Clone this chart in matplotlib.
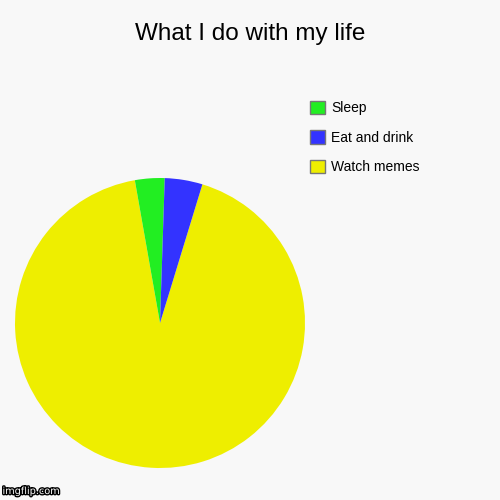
import matplotlib.pyplot as plt
import matplotlib.patches as mpatches
import matplotlib.patheffects as pe

labels = ['Watch memes', 'Sleep', 'Eat and drink']
values = [92.5, 3.3, 4.2]
colors = ['#EEEE00', '#22EE22', '#3333FF']
legend_order = ['Sleep', 'Eat and drink', 'Watch memes']

fig = plt.figure(figsize=(5, 5), dpi=100, facecolor='#F8F8F8')
ax = fig.add_axes([0.03, 0.064, 0.58, 0.58])
ax.set_facecolor('#F8F8F8')
ax.pie(values, colors=colors, startangle=73, counterclock=False,
       wedgeprops={'linewidth': 0})
ax.set_xlim(-1.0, 1.0)
ax.set_ylim(-1.0, 1.0)
ax.set_aspect('equal')
ax.axis('off')

fig.text(0.5, 0.932, 'What I do with my life', ha='center', va='center', fontsize=17.5,
         family='Liberation Sans')

handles = []
for name in legend_order:
    c = colors[labels.index(name)]
    handles.append(mpatches.Patch(facecolor=c, edgecolor='#777777', linewidth=1, label=name))
fig.legend(handles=handles, loc='upper left', bbox_to_anchor=(0.594, 0.824), frameon=False,
           handlelength=1.15, handleheight=1.15, handletextpad=0.4, labelspacing=1.08,
           prop={'family': 'Liberation Sans', 'size': 10})

fig.text(0.005, 0.012, 'imgflip.com', fontsize=7, color='white', family='DejaVu Sans',
         path_effects=[pe.withStroke(linewidth=2, foreground='black')])

fig.savefig('out.png', dpi=100, facecolor=fig.get_facecolor())
